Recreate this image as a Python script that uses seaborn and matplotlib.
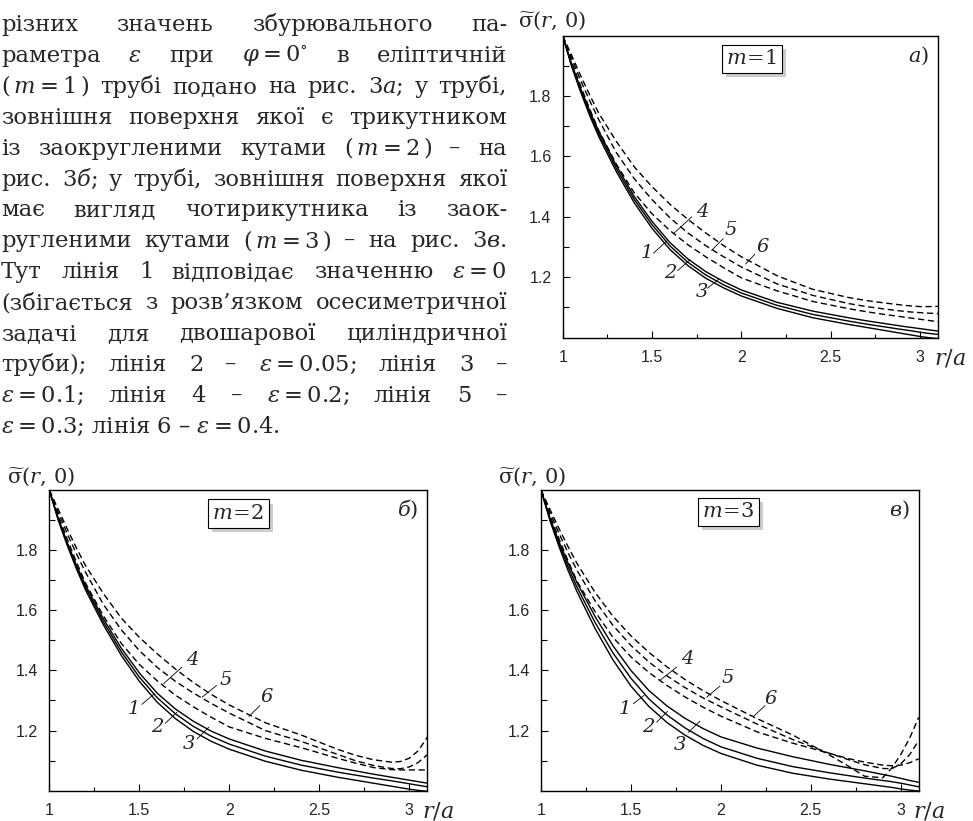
import matplotlib
matplotlib.use('Agg')
import matplotlib.pyplot as plt
import matplotlib.patheffects as pe
from matplotlib.ticker import FixedLocator
import pandas as pd
import seaborn as sns

W, H = 973, 821

# r/a grid shared by all curves
R = [1.0, 1.05, 1.1, 1.15, 1.2, 1.3, 1.4, 1.5, 1.6, 1.7, 1.8, 1.9, 2.0,
     2.2, 2.4, 2.6, 2.7, 2.8, 2.9, 2.95, 3.0, 3.05, 3.1]

# m = 1 (a)
a1 = [2.0, 1.898, 1.814, 1.737, 1.668, 1.55, 1.447, 1.362, 1.292, 1.239, 1.197, 1.165, 1.138,
      1.097, 1.066, 1.044, 1.034, 1.024, 1.014, 1.009, 1.004, 1.0, 0.997]
a2 = [2.0, 1.902, 1.82, 1.745, 1.677, 1.56, 1.458, 1.374, 1.304, 1.25, 1.208, 1.175, 1.148,
      1.107, 1.077, 1.055, 1.045, 1.036, 1.027, 1.023, 1.018, 1.014, 1.011]
a3 = [2.0, 1.906, 1.826, 1.753, 1.686, 1.57, 1.468, 1.385, 1.315, 1.261, 1.219, 1.186, 1.158,
      1.117, 1.088, 1.066, 1.056, 1.047, 1.038, 1.034, 1.03, 1.026, 1.022]
a4 = [2.0, 1.914, 1.834, 1.759, 1.688, 1.575, 1.48, 1.41, 1.355, 1.308, 1.268, 1.232, 1.198,
      1.155, 1.12, 1.096, 1.086, 1.077, 1.069, 1.065, 1.061, 1.057, 1.053]
a5 = [2.0, 1.925, 1.852, 1.786, 1.724, 1.613, 1.527, 1.457, 1.397, 1.347, 1.305, 1.268, 1.234,
      1.178, 1.14, 1.113, 1.103, 1.095, 1.088, 1.085, 1.083, 1.081, 1.08]
a6 = [2.0, 1.935, 1.868, 1.805, 1.745, 1.65, 1.566, 1.5, 1.442, 1.392, 1.347, 1.305, 1.268,
      1.205, 1.16, 1.133, 1.123, 1.115, 1.108, 1.105, 1.103, 1.103, 1.104]

# m = 2 (б)
b1 = [2.0, 1.899, 1.815, 1.739, 1.669, 1.552, 1.45, 1.364, 1.294, 1.24, 1.197, 1.164, 1.138,
      1.098, 1.068, 1.045, 1.035, 1.025, 1.015, 1.01, 1.005, 1.001, 0.998]
b2 = [2.0, 1.902, 1.82, 1.745, 1.677, 1.562, 1.462, 1.378, 1.309, 1.256, 1.214, 1.181, 1.155,
      1.115, 1.085, 1.062, 1.052, 1.042, 1.033, 1.028, 1.023, 1.018, 1.013]
b3 = [2.0, 1.905, 1.825, 1.751, 1.685, 1.572, 1.474, 1.392, 1.324, 1.272, 1.231, 1.198, 1.172,
      1.132, 1.101, 1.077, 1.066, 1.055, 1.045, 1.04, 1.035, 1.03, 1.025]
b4 = [2.0, 1.914, 1.836, 1.762, 1.692, 1.582, 1.49, 1.42, 1.365, 1.318, 1.279, 1.244, 1.212,
      1.174, 1.143, 1.108, 1.092, 1.077, 1.07, 1.069, 1.069, 1.069, 1.069]
b5 = [2.0, 1.925, 1.854, 1.789, 1.728, 1.62, 1.535, 1.466, 1.41, 1.364, 1.325, 1.29, 1.258,
      1.2, 1.164, 1.121, 1.1, 1.084, 1.074, 1.073, 1.079, 1.094, 1.12]
b6 = [2.0, 1.935, 1.87, 1.808, 1.75, 1.656, 1.574, 1.51, 1.455, 1.405, 1.36, 1.32, 1.285,
      1.226, 1.185, 1.138, 1.118, 1.103, 1.095, 1.097, 1.108, 1.133, 1.178]

# m = 3 (в)
c1 = [2.0, 1.898, 1.812, 1.733, 1.662, 1.54, 1.435, 1.348, 1.28, 1.227, 1.185, 1.151, 1.124,
      1.085, 1.058, 1.039, 1.031, 1.023, 1.015, 1.011, 1.006, 1.002, 0.999]
c2 = [2.0, 1.902, 1.82, 1.745, 1.677, 1.56, 1.458, 1.374, 1.305, 1.252, 1.209, 1.174, 1.146,
      1.108, 1.08, 1.06, 1.051, 1.042, 1.034, 1.03, 1.025, 1.019, 1.013]
c3 = [2.0, 1.906, 1.828, 1.757, 1.692, 1.58, 1.482, 1.4, 1.333, 1.282, 1.241, 1.207, 1.179,
      1.142, 1.113, 1.088, 1.077, 1.066, 1.054, 1.048, 1.041, 1.034, 1.028]
c4 = [2.0, 1.915, 1.838, 1.765, 1.697, 1.596, 1.51, 1.445, 1.393, 1.35, 1.312, 1.278, 1.248,
      1.196, 1.158, 1.125, 1.108, 1.095, 1.085, 1.083, 1.085, 1.093, 1.106]
c5 = [2.0, 1.925, 1.856, 1.792, 1.733, 1.632, 1.55, 1.483, 1.428, 1.382, 1.343, 1.309, 1.279,
      1.222, 1.17, 1.125, 1.105, 1.086, 1.074, 1.073, 1.089, 1.12, 1.167]
c6 = [2.0, 1.935, 1.872, 1.812, 1.756, 1.66, 1.58, 1.515, 1.46, 1.412, 1.37, 1.333, 1.3,
      1.24, 1.185, 1.12, 1.085, 1.048, 1.043, 1.075, 1.12, 1.175, 1.244]

X_TICKS = [1, 1.5, 2, 2.5, 3]
X_TICK_LABELS = ['1', '1.5', '2', '2.5', '3']
X_MINOR = [1.25, 1.75, 2.25, 2.75]
Y_TICKS = [1.2, 1.4, 1.6, 1.8]
Y_TICK_LABELS = ['1.2', '1.4', '1.6', '1.8']
Y_MINOR = [1.1, 1.3, 1.5, 1.7, 1.9]

PARA_LINES = [
    ["різних", "значень", "збурювального", "па-"],
    ["раметра", r"$\varepsilon$", "при", r"$\varphi = 0^{\circ}$", "в", "еліптичній"],
    [r"$(\,m = 1\,)$", "трубі", "подано", "на", "рис.", r"3$\mathit{а}$;", "у", "трубі,"],
    ["зовнішня", "поверхня", "якої", "є", "трикутником"],
    ["із", "заокругленими", "кутами", r"$(\,m = 2\,)$", "–", "на"],
    ["рис.", r"3$\mathit{б}$;", "у", "трубі,", "зовнішня", "поверхня", "якої"],
    ["має", "вигляд", "чотирикутника", "із", "заок-"],
    ["ругленими", "кутами", r"$(\,m = 3\,)$", "–", "на", "рис.", r"3$\mathit{в}$."],
    ["Тут", "лінія", r"$\mathit{1}$", "відповідає", "значенню", r"$\varepsilon = 0$"],
    ["(збігається", "з", "розв’язком", "осесиметричної"],
    ["задачі", "для", "двошарової", "циліндричної"],
    ["труби);", "лінія", r"$\mathit{2}$", "–", r"$\varepsilon = 0.05$;", "лінія", r"$\mathit{3}$", "–"],
    [r"$\varepsilon = 0.1$;", "лінія", r"$\mathit{4}$", "–", r"$\varepsilon = 0.2$;", "лінія", r"$\mathit{5}$", "–"],
]
PARA_LAST = r"$\varepsilon = 0.3$; лінія $\mathit{6}$ – $\varepsilon = 0.4$."

sns.set_style('ticks')
plt.rcParams['font.family'] = ['Liberation Sans', 'DejaVu Sans']
plt.rcParams['mathtext.fontset'] = 'dejavuserif'

fig = plt.figure(figsize=(W / 100, H / 100), dpi=100)


def px(x, y):
    return x / W, 1 - y / H


# ---- paragraph (justified) ----
renderer = fig.canvas.get_renderer()
TXT = dict(fontfamily='DejaVu Serif', fontsize=16.3, va='baseline')
left_px, right_px = 1, 507
for i, words in enumerate(PARA_LINES):
    yb = 31 + 30.9 * i
    objs = [fig.text(0, px(0, yb)[1], w, ha='left', **TXT) for w in words]
    widths = [o.get_window_extent(renderer).width for o in objs]
    gap = (right_px - left_px - sum(widths)) / (len(words) - 1)
    x = left_px
    for o, w in zip(objs, widths):
        o.set_x(x / W)
        x += w + gap
fig.text(*px(left_px, 31 + 30.9 * len(PARA_LINES)), PARA_LAST, ha='left', **TXT)


def draw_panel(rect, curves, m_text, letter, labels, ylab_x, ylab_y, box_xy, ra_x):
    l, t, r, b = rect
    x0, y1 = px(l, t)
    x1, y0 = px(r, b)
    ax = fig.add_axes([x0, y0, x1 - x0, y1 - y0])

    rows = []
    for i, ys in enumerate(curves):
        kind = 'solid' if i < 3 else 'dashed'
        for rr, s in zip(R, ys):
            rows.append((rr, s, i + 1, kind))
    df = pd.DataFrame(rows, columns=['r', 'sigma', 'curve', 'kind'])
    sns.lineplot(data=df, x='r', y='sigma', units='curve', estimator=None, style='kind',
                 dashes={'solid': '', 'dashed': (4.5, 2.6)}, color='black', linewidth=1.0,
                 legend=False, sort=False, ax=ax)

    ax.set_xlim(1, 3.1)
    ax.set_ylim(1.0, 2.0)
    ax.set_xticks(X_TICKS, labels=X_TICK_LABELS)
    ax.set_yticks(Y_TICKS, labels=Y_TICK_LABELS)
    ax.xaxis.set_minor_locator(FixedLocator(X_MINOR))
    ax.yaxis.set_minor_locator(FixedLocator(Y_MINOR))
    ax.set_xlabel('')
    ax.set_ylabel('')
    ax.tick_params(which='both', direction='in', top=False, right=False, width=0.8, color='black')
    ax.tick_params(axis='x', which='major', length=5, labelsize=11.5, pad=9)
    ax.tick_params(axis='y', which='major', length=5, labelsize=11.5, pad=8)
    ax.tick_params(axis='x', which='minor', length=3.2)
    ax.tick_params(axis='y', which='minor', length=4.2)
    for sp in ax.spines.values():
        sp.set_linewidth(1.0)
        sp.set_color('black')

    # curve numbers with leader lines
    for num, (lx, ly), (ax0, ay0, ax1, ay1) in labels:
        ax.plot([ax0, ax1], [ay0, ay1], color='black', lw=0.6)
        ax.text(lx, ly, num, fontfamily='DejaVu Serif', fontstyle='italic', fontsize=14,
                ha='center', va='center')

    tb = ax.text(box_xy[0], box_xy[1], m_text, transform=ax.transAxes, ha='center', va='center',
                 fontsize=15, bbox=dict(boxstyle='square,pad=0.22', fc='white', ec='black', lw=0.8))
    tb.get_bbox_patch().set_path_effects(
        [pe.withSimplePatchShadow(offset=(3, -3), shadow_rgbFace='0.8', alpha=1.0)])

    ax.text(0.975, 0.935, letter, transform=ax.transAxes, ha='right', va='center', fontsize=15)
    ax.text(ra_x, -0.07, r'$r/a$', transform=ax.transAxes, ha='left', va='center', fontsize=16)
    fig.text(*px(ylab_x, ylab_y), r'$\widetilde{\mathrm{\sigma}}(r,\,0)$', ha='center', va='center',
             fontsize=15)
    return ax


labels_a = [
    ('1', (1.473, 1.281), (1.508, 1.28, 1.582, 1.32)),
    ('2', (1.602, 1.213), (1.643, 1.222, 1.712, 1.258)),
    ('3', (1.777, 1.15), (1.81, 1.164, 1.874, 1.194)),
    ('4', (1.781, 1.417), (1.619, 1.344, 1.722, 1.4)),
    ('5', (1.94, 1.356), (1.833, 1.289, 1.898, 1.328)),
    ('6', (2.116, 1.3), (2.023, 1.244, 2.075, 1.276)),
]
labels_b = [
    ('1', (1.468, 1.272), (1.514, 1.287, 1.583, 1.322)),
    ('2', (1.598, 1.211), (1.644, 1.224, 1.709, 1.261)),
    ('3', (1.774, 1.156), (1.821, 1.172, 1.886, 1.211)),
    ('4', (1.793, 1.433), (1.635, 1.356, 1.737, 1.411)),
    ('5', (1.979, 1.369), (1.849, 1.311, 1.929, 1.35)),
    ('6', (2.205, 1.311), (2.109, 1.247, 2.17, 1.283)),
]
labels_c = [
    ('1', (1.467, 1.272), (1.513, 1.289, 1.573, 1.317)),
    ('2', (1.597, 1.211), (1.643, 1.228, 1.704, 1.264)),
    ('3', (1.773, 1.153), (1.819, 1.194, 1.884, 1.231)),
    ('4', (1.814, 1.439), (1.662, 1.367, 1.754, 1.411)),
    ('5', (2.036, 1.376), (1.921, 1.311, 1.995, 1.348)),
    ('6', (2.277, 1.306), (2.181, 1.247, 2.246, 1.283)),
]

draw_panel((562.7, 35.7, 938, 337.7), [a1, a2, a3, a4, a5, a6], r'$m\!=\!1$', r'$a)$',
           labels_a, 552, 21, (0.504, 0.923), 0.99)
draw_panel((49.3, 490, 427.3, 790.7), [b1, b2, b3, b4, b5, b6], r'$m\!=\!2$', r'$\mathit{б})$',
           labels_b, 41, 477, (0.5, 0.922), 0.985)
draw_panel((541, 490, 918.7, 790.7), [c1, c2, c3, c4, c5, c6], r'$m\!=\!3$', r'$\mathit{в})$',
           labels_c, 532, 477, (0.496, 0.927), 0.985)

fig.savefig('out.png', dpi=100)
